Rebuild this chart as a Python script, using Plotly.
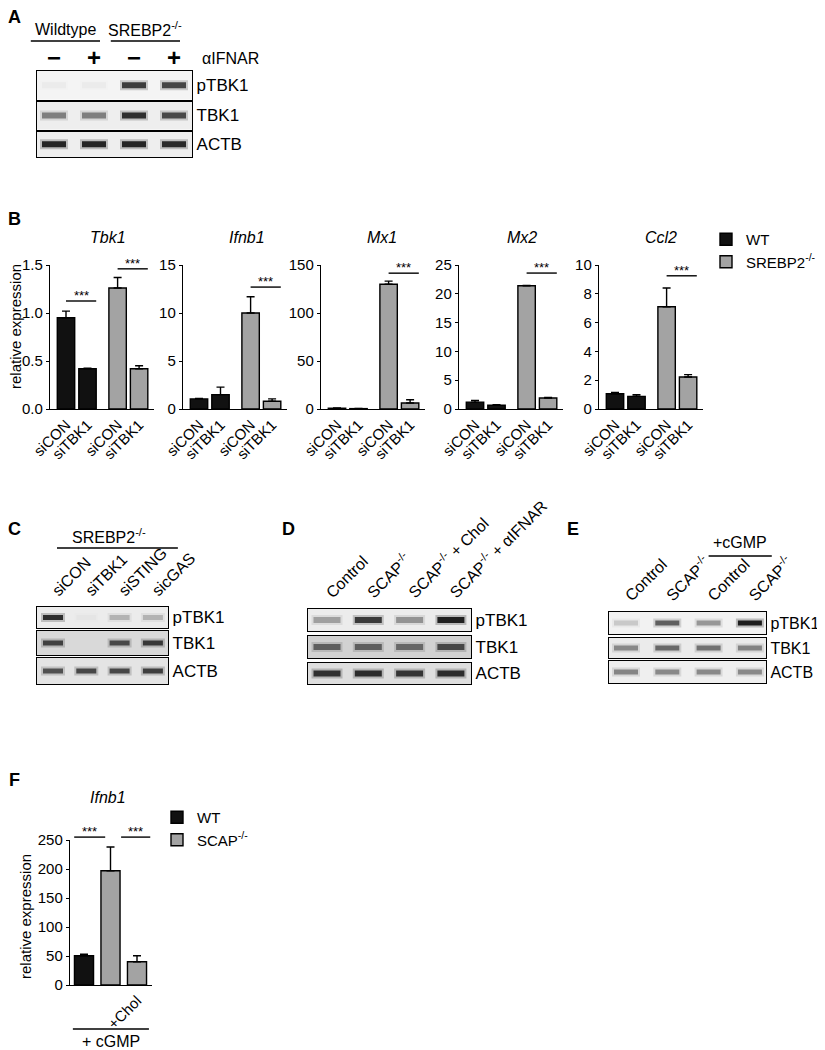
import plotly.graph_objects as go

# page body has an 8px margin: the figure is drawn at (8, 8) in the window
OFF = 8
W, H = 825 - OFF, 1050 - OFF
FONT = "Liberation Sans, Arial, Helvetica, sans-serif"

# ======================= DATA =======================
# Panel A - western blot, band intensity (0..1) per lane
a_lanes = ["<b>−</b>", "<b>+</b>", "<b>−</b>", "<b>+</b>"]
a_groups = ["Wildtype", "SREBP2<sup>-/-</sup>"]
a_group_lanes = [[0, 1], [2, 3]]
a_treatment = "αIFNAR"
blot_rows = ["pTBK1", "TBK1", "ACTB"]
a_ptbk1 = [0.03, 0.03, 0.78, 0.72]
a_tbk1 = [0.45, 0.45, 0.85, 0.70]
a_actb = [0.90, 0.90, 0.90, 0.88]

# Panel B - qPCR
b_genes = ["Tbk1", "Ifnb1", "Mx1", "Mx2", "Ccl2"]
b_conditions = ["siCON", "siTBK1", "siCON", "siTBK1"]
b_genotypes = ["WT", "SREBP2<sup>-/-</sup>"]
tbk1_mean = [0.95, 0.42, 1.26, 0.42]
tbk1_err = [0.07, 0.005, 0.11, 0.03]
ifnb1_mean = [1.05, 1.50, 10.0, 0.80]
ifnb1_err = [0.05, 0.78, 1.70, 0.25]
mx1_mean = [0.8, 0.4, 130.0, 6.2]
mx1_err = [0.2, 0.1, 3.2, 3.5]
mx2_mean = [1.20, 0.65, 21.4, 1.90]
mx2_err = [0.30, 0.08, 0.05, 0.10]
ccl2_mean = [1.06, 0.88, 7.10, 2.22]
ccl2_err = [0.09, 0.11, 1.30, 0.17]
tbk1_ticks = [0, 0.5, 1.0, 1.5]
tbk1_ticklabels = ["0.0", "0.5", "1.0", "1.5"]
ifnb1_ticks = [0, 5, 10, 15]
mx1_ticks = [0, 50, 100, 150]
mx2_ticks = [0, 5, 10, 15, 20, 25]
ccl2_ticks = [0, 2, 4, 6, 8, 10]
# significance brackets: (bar from, bar to, height)
tbk1_sig = [(0, 1, 1.125), (2, 3, 1.46)]
ifnb1_sig = [(2, 3, 12.7)]
mx1_sig = [(2, 3, 141.5)]
mx2_sig = [(2, 3, 23.6)]
ccl2_sig = [(2, 3, 9.25)]

# Panel C - western blot
c_lanes = ["siCON", "siTBK1", "siSTING", "sicGAS"]
c_group = "SREBP2<sup>-/-</sup>"
c_ptbk1 = [0.85, 0.02, 0.22, 0.22]
c_tbk1 = [0.72, 0.00, 0.68, 0.78]
c_actb = [0.65, 0.70, 0.70, 0.75]

# Panel D - western blot
d_lanes = ["Control", "SCAP<sup>-/-</sup>", "SCAP<sup>-/-</sup> + Chol",
           "SCAP<sup>-/-</sup> + αIFNAR"]
d_ptbk1 = [0.30, 0.78, 0.35, 0.92]
d_tbk1 = [0.55, 0.55, 0.50, 0.68]
d_actb = [0.82, 0.85, 0.80, 0.85]

# Panel E - western blot
e_lanes = ["Control", "SCAP<sup>-/-</sup>", "Control", "SCAP<sup>-/-</sup>"]
e_group = "+cGMP"
e_ptbk1 = [0.15, 0.60, 0.35, 0.95]
e_tbk1 = [0.40, 0.55, 0.50, 0.42]
e_actb = [0.42, 0.40, 0.40, 0.40]

# Panel F - qPCR
f_gene = "Ifnb1"
f_conditions = [None, None, "+Chol"]
f_genotypes = ["WT", "SCAP<sup>-/-</sup>"]
f_mean = [50.5, 197.0, 40.0]
f_err = [2.5, 41.0, 10.5]
f_ticks = [0, 50, 100, 150, 200, 250]
f_sig = [(0, 1, 255), (1, 2, 255)]
f_treatment = "+ cGMP"

# ======================= STYLE / LAYOUT =======================
BLACK_BAR = "#111111"
GREY_BAR = "#a3a3a3"
LW = 1.4


def fx(x):
    return (x - OFF) / W


def fy(y):
    return 1 - (y - OFF) / H


layout = dict(
    width=W, height=H, autosize=False,
    margin=dict(l=0, r=0, t=0, b=0, pad=0),
    paper_bgcolor="white", plot_bgcolor="rgba(0,0,0,0)",
    font=dict(family=FONT, size=15, color="black"),
    showlegend=True, shapes=[], annotations=[],
)
fig = go.Figure()
naxes = [0]


def new_axes(x0, x1, y0, y1, xkw, ykw):
    naxes[0] += 1
    n = naxes[0]
    sfx = "" if n == 1 else str(n)
    xa, ya = "x" + sfx, "y" + sfx
    layout["xaxis" + sfx] = dict(domain=[fx(x0), fx(x1)], anchor=ya, automargin=False, **xkw)
    layout["yaxis" + sfx] = dict(domain=[fy(y1), fy(y0)], anchor=xa, automargin=False, **ykw)
    return xa, ya


def ann(text, x, y, size=15, **kw):
    d = dict(text=text, x=fx(x), y=fy(y), xref="paper", yref="paper",
             showarrow=False, font=dict(size=size, family=FONT, color="black"))
    d.setdefault("xanchor", "center")
    d.setdefault("yanchor", "middle")
    d.update(kw)
    layout["annotations"].append(d)


def pline(x0, x1, y, width=LW):
    layout["shapes"].append(dict(type="line", xref="paper", yref="paper",
                                 x0=fx(x0), x1=fx(x1), y0=fy(y), y1=fy(y),
                                 line=dict(color="black", width=width)))


# ---------------- Blots ----------------
def add_blot(geom, lane_labels, intensities, bgcolors, lane_font, lane_angle,
             row_font=17, lane_standoff=0):
    left, right, lane0, step = geom["left"], geom["right"], geom["lane0"], geom["step"]
    blen, bth = geom["band"]
    n = len(lane_labels)
    lanes = list(range(n))
    xr = [(left - lane0) / step, (right - lane0) / step]
    for r, (top, bot) in enumerate(geom["rows"]):
        xkw = dict(range=xr, showline=True, mirror=True, linecolor="black",
                   linewidth=LW, showgrid=False, zeroline=False, ticks="",
                   fixedrange=True)
        if r == 0:
            xkw.update(side="top", tickvals=lanes, ticktext=lane_labels,
                       tickangle=lane_angle, tickfont=lane_font,
                       ticklabelstandoff=lane_standoff)
        else:
            xkw.update(showticklabels=False, tickvals=[])
        ykw = dict(range=[-0.5, 0.5], side="right", tickvals=[0],
                   ticktext=[blot_rows[r]], ticks="", showline=True, mirror=True,
                   linecolor="black", linewidth=LW, showgrid=False,
                   zeroline=False, tickfont=dict(size=row_font), fixedrange=True)
        xa, ya = new_axes(left, right, top, bot, xkw, ykw)
        layout["shapes"].append(dict(type="rect", xref=xa + " domain", yref=ya + " domain",
                                     x0=0, x1=1, y0=0, y1=1, layer="below",
                                     fillcolor=bgcolors[r], line=dict(width=0)))
        vals = intensities[r]
        # soft halo
        fig.add_trace(go.Scatter(
            x=lanes, y=[0] * n, mode="markers", xaxis=xa, yaxis=ya,
            showlegend=False, hoverinfo="skip",
            marker=dict(symbol="line-ew", size=(blen + 4) / 1.4,
                        line=dict(width=bth + 4,
                                  color=[f"rgba(40,40,40,{0.28 * v:.3f})" for v in vals]))))
        # band core
        fig.add_trace(go.Scatter(
            x=lanes, y=[0] * n, mode="markers", xaxis=xa, yaxis=ya,
            showlegend=False, hoverinfo="skip",
            marker=dict(symbol="line-ew", size=blen / 1.4,
                        line=dict(width=bth,
                                  color=[f"rgba(20,20,20,{v:.3f})" for v in vals]))))
    return lambda lane: lane0 + step * lane


geomA = dict(left=37, right=192, lane0=54, step=40,
             rows=[(71, 99.5), (101.5, 129.5), (131.5, 157)], band=(24, 6))
geomC = dict(left=37, right=168, lane0=53, step=33.3,
             rows=[(607, 628), (631, 655), (658, 684)], band=(20, 5))
geomD = dict(left=308, right=471, lane0=327, step=41.3,
             rows=[(609, 631), (636, 658), (663, 684)], band=(27, 6))
geomE = dict(left=609, right=766, lane0=626, step=41.3,
             rows=[(612, 634), (638, 658), (661, 683)], band=(24, 5))

lanefont = dict(size=16)
toA = add_blot(geomA, a_lanes, [a_ptbk1, a_tbk1, a_actb],
               ["#f4f4f4", "#eeeeee", "#eeeeee"], dict(size=24), 0, lane_standoff=-6)
toC = add_blot(geomC, c_lanes, [c_ptbk1, c_tbk1, c_actb],
               ["#ececec", "#d9d9d9", "#e4e4e4"], lanefont, -45)
toD = add_blot(geomD, d_lanes, [d_ptbk1, d_tbk1, d_actb],
               ["#ececec", "#d2d2d2", "#dedede"], lanefont, -45)
toE = add_blot(geomE, e_lanes, [e_ptbk1, e_tbk1, e_actb],
               ["#f2f2f2", "#ebebeb", "#efefef"], lanefont, -45, row_font=16)

# group labels over blots
for name, (l0, l1) in zip(a_groups, a_group_lanes):
    x0, x1 = toA(l0 - 0.58), toA(l1 + 0.15)
    pline(x0, x1, 41)
    ann(name, (x0 + x1) / 2, 29, size=16)
ann(a_treatment, 200, 58, size=16, xanchor="left")
cx0, cx1 = toC(0.12), toC(3.75)
pline(cx0, cx1, 548)
ann(c_group, (cx0 + cx1) / 2 - 8, 536, size=16)
ex0, ex1 = toE(2.0), toE(3.53)
pline(ex0, ex1, 556)
ann(e_group, (ex0 + ex1) / 2, 542, size=16)

# ---------------- Bar panels ----------------
B_LEFT = [50, 183, 321, 459, 599]
B_W, B_TOP, B_BOT = 104, 265, 409
B_UNIT, B_FIRST = 21.5, 16
b_x = [0, 1, 2.4, 3.4]
B_BW = 0.81

b_means = [tbk1_mean, ifnb1_mean, mx1_mean, mx2_mean, ccl2_mean]
b_errs = [tbk1_err, ifnb1_err, mx1_err, mx2_err, ccl2_err]
b_ticks = [tbk1_ticks, ifnb1_ticks, mx1_ticks, mx2_ticks, ccl2_ticks]
b_ticklabels = [tbk1_ticklabels] + [[str(t) for t in tk] for tk in b_ticks[1:]]
b_sigs = [tbk1_sig, ifnb1_sig, mx1_sig, mx2_sig, ccl2_sig]
B_TITLE_X = [108, 247, 382, 522, 661]


def bar_axes(left, width, top, bot, unit, first, xs, xlabels, ticks, ticklabels):
    xr = [-first / unit, (width - first) / unit]
    xv = [x for x, lab in zip(xs, xlabels) if lab]
    xt = [lab for lab in xlabels if lab]
    xkw = dict(range=xr, showline=True, linecolor="black", linewidth=LW, ticks="",
               tickvals=xv, ticktext=xt, tickangle=-45,
               tickfont=dict(size=15), showgrid=False, zeroline=False, fixedrange=True)
    ykw = dict(range=[0, ticks[-1]], tickvals=ticks, ticktext=ticklabels,
               ticks="outside", ticklen=3, tickwidth=LW, tickcolor="black",
               showline=True, linecolor="black", linewidth=LW, showgrid=False,
               zeroline=False, tickfont=dict(size=15), fixedrange=True)
    xa, ya = new_axes(left, left + width, top, bot, xkw, ykw)
    box = (left, width, top, bot)
    return xa, ya, xr, box


def add_bars(xa, ya, xs, means, errs, color, name, legend, show, bw):
    fig.add_trace(go.Bar(
        x=xs, y=means, width=bw, xaxis=xa, yaxis=ya, name=name,
        legend=legend, showlegend=show,
        marker=dict(color=color, line=dict(color="black", width=LW)),
        error_y=dict(type="data", array=errs, arrayminus=[0] * len(errs),
                     symmetric=False, color="black", thickness=LW, width=4)))


def sig_line(box, xr, ymax, x0, x1, yv):
    # convert data values through the axis ranges to page pixels
    left, width, top, bot = box
    px0 = left + (x0 - xr[0]) / (xr[1] - xr[0]) * width
    px1 = left + (x1 - xr[0]) / (xr[1] - xr[0]) * width
    pyv = bot - yv / ymax * (bot - top)
    pline(px0, px1, pyv)
    ann("***", (px0 + px1) / 2, pyv, size=13, yanchor="bottom", yshift=-4)


for g, gene in enumerate(b_genes):
    xa, ya, xr, box = bar_axes(B_LEFT[g], B_W, B_TOP, B_BOT, B_UNIT, B_FIRST, b_x,
                               b_conditions, b_ticks[g], b_ticklabels[g])
    add_bars(xa, ya, b_x[:2], b_means[g][:2], b_errs[g][:2], BLACK_BAR,
             b_genotypes[0], "legend", g == 0, B_BW)
    add_bars(xa, ya, b_x[2:], b_means[g][2:], b_errs[g][2:], GREY_BAR,
             b_genotypes[1], "legend", g == 0, B_BW)
    for (i, j, yv) in b_sigs[g]:
        sig_line(box, xr, b_ticks[g][-1], b_x[i], b_x[j] + B_BW / 2, yv)
    ann(f"<i>{gene}</i>", B_TITLE_X[g], 237, size=16)

ann("relative expression", 16, 327, size=15, textangle=-90)

# Panel F
F_LEFT, F_W, F_TOP, F_BOT = 70, 82, 840, 985
F_UNIT, F_FIRST = 26.5, 14
f_x = [0, 1, 2]
F_BW = 0.72
f_sig_pad = [(-0.37, -0.2), (0.4, 0.5)]
xa, ya, xr, box = bar_axes(F_LEFT, F_W, F_TOP, F_BOT, F_UNIT, F_FIRST, f_x,
                           f_conditions, f_ticks, [str(t) for t in f_ticks])
add_bars(xa, ya, f_x[:1], f_mean[:1], f_err[:1], BLACK_BAR, f_genotypes[0], "legend2", True, F_BW)
add_bars(xa, ya, f_x[1:], f_mean[1:], f_err[1:], GREY_BAR, f_genotypes[1], "legend2", True, F_BW)
for (i, j, yv), (p0, p1) in zip(f_sig, f_sig_pad):
    sig_line(box, xr, f_ticks[-1], f_x[i] + p0, f_x[j] + p1, yv)
ann(f"<i>{f_gene}</i>", 108, 797, size=16)
ann("relative expression", 25, 917, size=15, textangle=-90)
fx0 = F_LEFT + F_FIRST + (-0.42) * F_UNIT
fx1 = F_LEFT + F_FIRST + 2.45 * F_UNIT
pline(fx0, fx1, 1029)
ann(f_treatment, (fx0 + fx1) / 2, 1041, size=16)

# panel letters
for letter, x, y in [("A", 15, 17), ("B", 15, 219), ("C", 15, 529), ("D", 288, 529),
                     ("E", 573, 529), ("F", 15, 780)]:
    ann(f"<b>{letter}</b>", x, y, size=18)

layout["legend"] = dict(x=fx(706), y=fy(223), xanchor="left", yanchor="top",
                        bgcolor="rgba(0,0,0,0)", font=dict(size=15), tracegroupgap=0)
layout["legend2"] = dict(x=fx(157), y=fy(801), xanchor="left", yanchor="top",
                         bgcolor="rgba(0,0,0,0)", font=dict(size=15), tracegroupgap=0)
layout["barmode"] = "overlay"

fig.update_layout(**layout)
fig.write_html("out.html")
